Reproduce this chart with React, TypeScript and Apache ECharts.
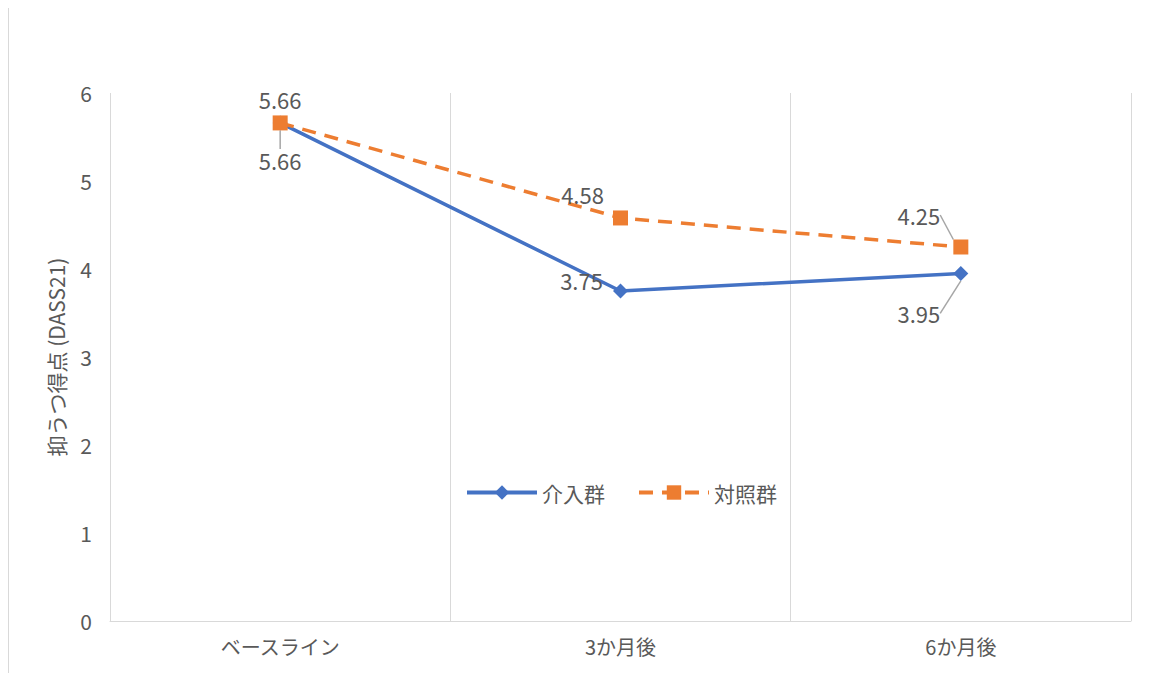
import React, { useEffect, useRef } from "react";
import * as echarts from "echarts";

const categories = ["ベースライン", "3か月後", "6か月後"];
const interventionValues = [5.66, 3.75, 3.95];
const controlValues = [5.66, 4.58, 4.25];
const seriesNames = ["介入群", "対照群"];
const yTicks = { min: 0, max: 6, interval: 1 };

// label offsets (dx, dy) relative to the point, and whether a leader line shows
const interventionLabelOffsets = [[0, 37], [-39, -11], [-42, 40]];
const interventionLeader = [true, false, true];
const controlLabelOffsets = [[0, -24], [-38, -24], [-42, -32]];
const controlLeader = [false, false, true];

const FONT = "'Noto Sans CJK JP', 'Noto Sans', sans-serif";
const TEXT = "#595959";

export default function App() {
  const ref = useRef<HTMLDivElement>(null);
  useEffect(() => {
    if (!ref.current) return;
    const chart = echarts.init(ref.current, undefined, { renderer: "svg" });
    const offsets = [interventionLabelOffsets, controlLabelOffsets];
    const mkData = (vals: number[], leaders: boolean[]) =>
      vals.map((v, i) => ({
        value: v,
        labelLine: { show: leaders[i] },
      }));
    chart.setOption({
      animation: false,
      textStyle: { fontFamily: FONT },
      graphic: [
        {
          type: "rect",
          shape: { x: 0.5, y: -0.5, width: 1142, height: 668 },
          style: { fill: "none", stroke: "#d9d9d9", lineWidth: 1 },
          silent: true,
        },
      ],
      grid: { left: 102, right: 21, top: 85, bottom: 52, containLabel: false },
      legend: {
        left: 452,
        top: 469,
        itemWidth: 70,
        itemHeight: 18,
        itemGap: 32,
        lineStyle: { width: 4 },
        textStyle: { fontSize: 21, color: TEXT, fontFamily: FONT },
        data: seriesNames,
      },
      xAxis: {
        type: "category",
        data: categories,
        boundaryGap: true,
        axisLine: { show: true, lineStyle: { color: "#d9d9d9", width: 1 } },
        axisTick: { show: false },
        axisLabel: { fontSize: 20, color: TEXT, margin: 15, fontFamily: FONT },
        splitLine: { show: true, lineStyle: { color: "#d9d9d9", width: 1 } },
      },
      yAxis: {
        type: "value",
        min: yTicks.min,
        max: yTicks.max,
        interval: yTicks.interval,
        name: "抑うつ得点 (DASS21)",
        nameLocation: "middle",
        nameGap: 44,
        nameTextStyle: { fontSize: 21, color: TEXT, fontFamily: FONT },
        axisLine: { show: false },
        axisTick: { show: false },
        axisLabel: { fontSize: 21, color: TEXT, margin: 18, fontFamily: FONT },
        splitLine: { show: false },
      },
      series: [
        {
          name: seriesNames[0],
          type: "line",
          data: mkData(interventionValues, interventionLeader),
          symbol: "diamond",
          symbolSize: 15,
          lineStyle: { color: "#4472C4", width: 3.5 },
          itemStyle: { color: "#4472C4" },
          z: 2,
        },
        {
          name: seriesNames[1],
          type: "line",
          data: mkData(controlValues, controlLeader),
          symbol: "rect",
          symbolSize: 15,
          lineStyle: { color: "#ED7D31", width: 3.5, type: [14, 9] },
          itemStyle: { color: "#ED7D31" },
          z: 3,
        },
      ].map((s, si) => ({
        ...s,
        label: {
          show: true,
          position: "inside",
          fontSize: 22,
          color: TEXT,
          fontFamily: FONT,
          formatter: (p: any) => (p.value as number).toFixed(2),
        },
        labelLine: { show: false, lineStyle: { color: "#a6a6a6", width: 1.5 } },
        labelLayout: (p: any) => ({
          dx: offsets[si][p.dataIndex][0],
          dy: offsets[si][p.dataIndex][1],
        }),
      })),
    });
    return () => chart.dispose();
  }, []);
  return <div ref={ref} style={{ width: 1144, height: 665 }} />;
}
